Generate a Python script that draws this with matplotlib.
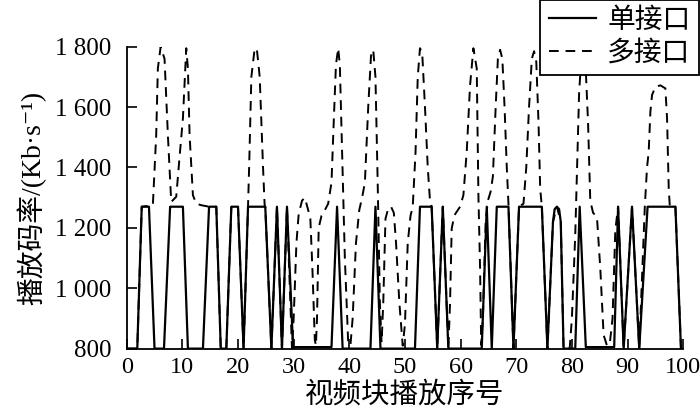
import matplotlib
matplotlib.use("Agg")
import matplotlib.pyplot as plt

plt.rcParams['font.family'] = ['Liberation Serif', 'Noto Sans CJK SC', 'DejaVu Sans']

# 单接口 (solid) vertices
single_x = [0, 1.9, 2.7, 4.0, 5.0, 6.7, 7.8, 10.1, 11.0, 13.7, 14.8, 16.1, 16.9, 17.9, 18.8, 20.0,
            21.0, 21.8, 24.9, 26.0, 27.0, 27.9, 28.8, 29.9, 36.8, 37.8, 38.8, 43.8, 44.7, 45.6,
            51.8, 52.7, 54.8, 55.8, 56.8, 57.8, 63.8, 64.7, 65.6, 66.5, 68.6, 69.5, 70.5, 74.6,
            75.6, 76.6, 76.9, 77.3, 77.7, 78.0, 78.5, 80.6, 81.4, 82.5, 87.6, 88.3, 89.3, 90.8,
            92.1, 93.6, 98.6, 99.6, 100]
single_y = [800, 800, 1270, 1270, 800, 800, 1270, 1270, 800, 800, 1270, 1270, 800, 800, 1270, 1270,
            800, 1270, 1270, 800, 1270, 800, 1270, 805, 805, 1270, 800, 800, 1270, 800,
            800, 1270, 1270, 800, 1270, 800, 800, 1270, 800, 1270, 1270, 800, 1270, 1270,
            800, 1220, 1262, 1270, 1262, 1220, 800, 800, 1270, 805, 805, 1270, 800, 1270,
            800, 1270, 1270, 800, 800]

# 多接口 (dashed) vertices
multi_x = [0, 1.9, 2.7, 4.7, 5.3, 5.6, 6.1, 6.8, 7.4, 7.9, 8.0, 8.9, 9.5, 10.1, 10.7, 11.0, 11.3,
           11.9, 12.5, 13.4, 14.8, 16.1, 16.9, 17.9, 18.8, 20.0, 21.0, 21.8, 22.0, 22.4, 23.0,
           23.4, 23.9, 24.5, 24.8, 24.9, 26.0, 27.0, 27.9, 28.8, 29.7, 30.0, 30.5, 30.9, 31.5,
           32.0, 32.6, 33.0, 33.4, 33.8, 34.0, 34.2, 34.5, 35.0, 35.5, 36.2, 36.8, 37.2, 37.6,
           38.0, 38.3, 38.7, 39.2, 39.8, 40.2, 40.6, 41.2, 41.8, 42.3, 42.8, 43.4, 43.9, 44.3,
           44.7, 45.1, 45.5, 45.8, 46.1, 46.5, 47.0, 47.5, 48.0, 48.4, 49.0, 49.6, 50.0, 50.5,
           51.0, 51.4, 51.9, 52.3, 52.7, 53.1, 53.6, 54.1, 54.5, 54.8, 55.8, 56.8, 57.8, 58.1,
           58.4, 58.9, 59.9, 60.5, 61.1, 61.7, 62.3, 62.9, 63.2, 63.5, 63.7, 64.0, 64.5, 64.9,
           65.4, 65.8, 66.3, 66.7, 67.1, 67.5, 67.9, 68.3, 68.6, 69.5, 70.5, 71.3, 71.8, 72.3,
           72.8, 73.2, 73.6, 74.0, 74.3, 74.6, 75.6, 76.6, 77.3, 78.0, 78.5, 79.6, 80.0, 80.6,
           81.0, 81.3, 81.8, 82.1, 82.5, 82.9, 83.3, 83.8, 84.5, 85.1, 85.7, 86.3, 86.8, 87.3,
           87.8, 88.3, 89.3, 90.8, 92.1, 93.1, 93.5, 93.8, 94.1, 94.4, 95.0, 95.9, 96.8, 97.1,
           97.4, 97.6, 98.6, 99.6, 100]
multi_y = [800, 800, 1270, 1275, 1507, 1728, 1800, 1760, 1507, 1320, 1286, 1303, 1435, 1562, 1795,
           1728, 1507, 1308, 1280, 1275, 1270, 1270, 800, 800, 1270, 1270, 800, 1270, 1400, 1700,
           1795, 1790, 1700, 1400, 1270, 1270, 800, 1270, 800, 1270, 800, 900, 1150, 1245, 1290,
           1300, 1260, 1230, 1050, 830, 810, 900, 1200, 1240, 1255, 1280, 1350, 1550, 1740,
           1795, 1740, 1450, 1100, 820, 810, 900, 1150, 1260, 1300, 1350, 1600, 1770, 1790,
           1700, 1350, 950, 820, 950, 1230, 1265, 1270, 1250, 1150, 950, 810, 880, 1150,
           1240, 1270, 1450, 1700, 1795, 1780, 1600, 1400, 1290, 1270, 800, 1270, 800, 950,
           1198, 1242, 1270, 1308, 1452, 1672, 1795, 1728, 1308, 1066, 812, 900, 1220, 1290,
           1320, 1370, 1600, 1760, 1790, 1760, 1600, 1400, 1280, 800, 1270, 1280, 1400, 1600,
           1760, 1785, 1750, 1550, 1330, 1270, 800, 1220, 1270, 1220, 800, 800, 900, 1176,
           1450, 1650, 1790, 1800, 1720, 1550, 1290, 1250, 1236, 1066, 845, 810, 815, 900,
           1192, 1270, 800, 1270, 800, 1270, 1400, 1452, 1584, 1640, 1667, 1672, 1662, 1562,
           1330, 1270, 1270, 800, 800]

y_ticks = [800, 1000, 1200, 1400, 1600, 1800]
y_tick_labels = ['800', '1 000', '1 200', '1 400', '1 600', '1 800']
x_ticks = [0, 10, 20, 30, 40, 50, 60, 70, 80, 90, 100]

fig = plt.figure(figsize=(7.0, 4.17), dpi=100)
ax = fig.add_axes([0.181, 0.164, 0.795, 0.724])

ax.plot(single_x, single_y, color='black', linewidth=1.6, linestyle='-', label='单接口')
ax.plot(multi_x, multi_y, color='black', linewidth=1.4, linestyle=(0, (5, 3.5)), label='多接口')

ax.set_xlim(0, 100)
ax.set_ylim(800, 1800)
ax.set_xticks(x_ticks)
ax.set_yticks(y_ticks)
ax.set_yticklabels(y_tick_labels)
ax.spines['top'].set_visible(False)
ax.spines['right'].set_visible(False)
for s in ('left', 'bottom'):
    ax.spines[s].set_linewidth(1.3)
ax.tick_params(axis='both', direction='in', length=7, width=1.2, labelsize=18)
ax.tick_params(axis='x', labelsize=17.5, pad=6)
ax.tick_params(axis='y', pad=11)

ax.set_xlabel('视频块播放序号', fontsize=20.5, labelpad=3)
ax.set_ylabel('播放码率/(Kb·s⁻¹)', fontsize=20, labelpad=6)

leg = fig.legend(loc='upper right', bbox_to_anchor=(0.998, 1.0), fontsize=20,
                 frameon=True, fancybox=False, edgecolor='black', framealpha=1,
                 handlelength=1.7, handletextpad=0.4, borderpad=0.3, labelspacing=0.25,
                 borderaxespad=0)
leg.get_frame().set_linewidth(1.3)

fig.savefig('out.png', dpi=100)
